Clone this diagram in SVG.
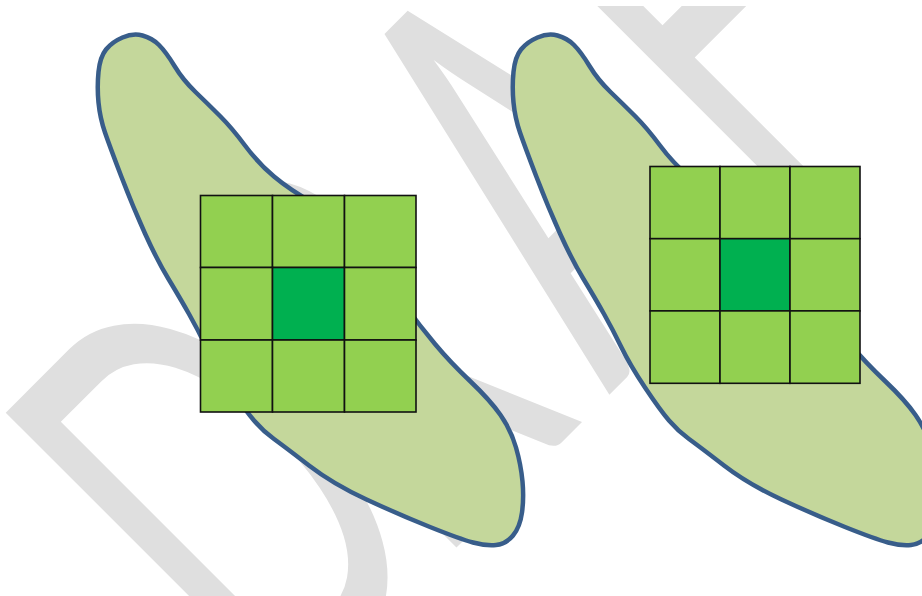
<svg xmlns="http://www.w3.org/2000/svg" width="922" height="596" viewBox="0 0 922 596">
  <defs>
    <style>
      .blob { fill: #c4d79b; stroke: #385d8a; stroke-width: 4.5; stroke-linejoin: round; }
      .cell { fill: #92d050; stroke: #111; stroke-width: 1.6; }
      .center { fill: #00b050; stroke: #111; stroke-width: 1.6; }
      .wm { font-family: Lato, "Open Sans", "Liberation Sans", sans-serif; font-size: 578px; fill: #dfdfdf; }
    </style>
    <clipPath id="wmclip"><rect x="0" y="6" width="922" height="590"/></clipPath>
    <path id="blobShape" d="M122.5,37.5 Q133,33 142.5,35.5 Q152,38 159,45 Q166,52 174.5,66 Q183,80 195.5,92 Q208,104 220,116 Q232,128 245,145.5 Q258,163 274,176.5 Q290,190 315,204 Q340,218 365,251.5 Q390,285 405,305.5 Q420,326 435,344 Q450,362 470,381 Q490,400 500.5,415 Q511,430 516,447.5 Q521,465 522.5,481.5 Q524,498 522,512.5 Q520,527 513,535.5 Q506,544 496,545 Q486,546 473,542.5 Q460,539 430,527 Q400,515 366.5,499.5 Q333,484 309,465.5 Q285,447 274,439 Q263,431 254,420.5 Q245,410 230,387.5 Q215,365 206.5,347.5 Q198,330 189,314 Q180,298 168.5,279 Q157,260 145,233.5 Q133,207 121.5,177 Q110,147 105,132.5 Q100,118 98.5,102.5 Q97,87 98.5,72 Q100,57 106,49.5 Q112,42 122.5,37.5 Z"/>
  </defs>
  <rect width="922" height="596" fill="#ffffff"/>
  <g id="watermark" clip-path="url(#wmclip)">
    <text class="wm" transform="rotate(-45) scale(0.58,1)" x="-549 -164 260 668 997" y="710">DRAFT</text>
  </g>
  <g id="blob1">
    <use href="#blobShape" class="blob"/>
  </g>
  <g id="grid1">
    <rect class="cell" x="200.5" y="195.5" width="72" height="72"/>
    <rect class="cell" x="272.5" y="195.5" width="72" height="72"/>
    <rect class="cell" x="344.5" y="195.5" width="71.5" height="72"/>
    <rect class="cell" x="200.5" y="267.5" width="72" height="72.5"/>
    <rect class="center" x="272.5" y="267.5" width="72" height="72.5"/>
    <rect class="cell" x="344.5" y="267.5" width="71.5" height="72.5"/>
    <rect class="cell" x="200.5" y="340" width="72" height="72"/>
    <rect class="cell" x="272.5" y="340" width="72" height="72"/>
    <rect class="cell" x="344.5" y="340" width="71.5" height="72"/>
  </g>
  <g id="blob2">
    <use href="#blobShape" class="blob" transform="translate(415,0)"/>
  </g>
  <g id="grid2">
    <rect class="cell" x="650" y="166.5" width="70" height="72.2"/>
    <rect class="cell" x="720" y="166.5" width="70" height="72.2"/>
    <rect class="cell" x="790" y="166.5" width="70" height="72.2"/>
    <rect class="cell" x="650" y="238.7" width="70" height="72.2"/>
    <rect class="center" x="720" y="238.7" width="70" height="72.2"/>
    <rect class="cell" x="790" y="238.7" width="70" height="72.2"/>
    <rect class="cell" x="650" y="310.9" width="70" height="72.4"/>
    <rect class="cell" x="720" y="310.9" width="70" height="72.4"/>
    <rect class="cell" x="790" y="310.9" width="70" height="72.4"/>
  </g>
  <g id="connectors"/>
</svg>
